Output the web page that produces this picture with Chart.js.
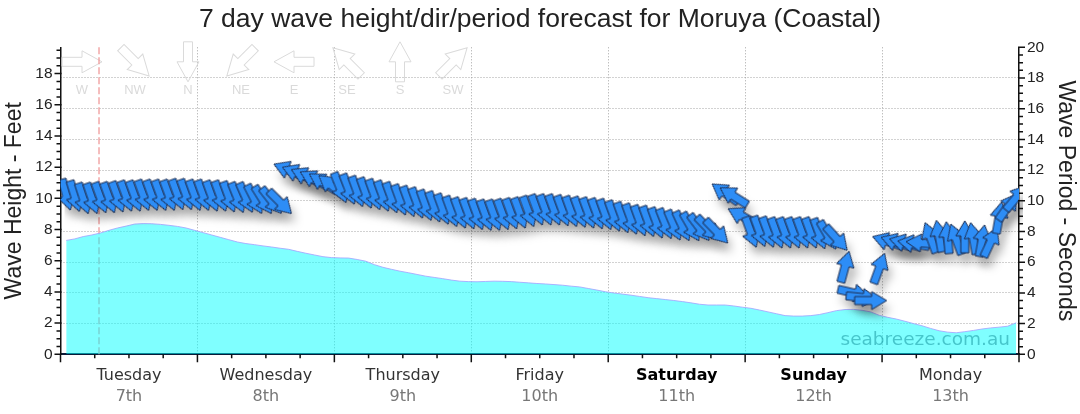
<!DOCTYPE html>
<html>
<head>
<meta charset="utf-8">
<title>Moruya wave forecast</title>
<script src="https://cdn.jsdelivr.net/npm/chart.js@4.4.1/dist/chart.umd.min.js"></script>
<style>
    html, body { margin: 0; padding: 0; background: #fff; }
    #wrap { width: 1080px; height: 414px; }
</style>
</head>
<body>
<div id="wrap"><canvas id="waveChart" width="1080" height="414"></canvas></div>
<script>
// Days along the bottom (each day is 24 hours from Tuesday 00:00)
const DAY_NAMES = ['Tuesday', 'Wednesday', 'Thursday', 'Friday', 'Saturday', 'Sunday', 'Monday'];
const DAY_DATES = ['7th', '8th', '9th', '10th', '11th', '12th', '13th'];
const WEEKEND_DAYS = ['Saturday', 'Sunday'];

// forecast points start at 01:00 Tuesday, one every 1.5 hours
const FIRST_HOUR = 1;
const HOUR_STEP = 1.5;

// wave height in feet (cyan area, left axis)
const HEIGHT_FT = [
    7.3, 7.4, 7.55, 7.65, 7.78, 7.95, 8.1, 8.22, 8.35, 8.38, 8.37, 8.33, 8.27, 8.2, 8.1, 7.95,
    7.8, 7.65, 7.5, 7.35, 7.2, 7.1, 7.03, 6.95, 6.88, 6.8,
    6.73, 6.6, 6.48, 6.37, 6.26, 6.2,
    6.18, 6.17, 6.08, 5.97, 5.75, 5.58, 5.45, 5.33, 5.23, 5.12, 5.01, 4.93, 4.85, 4.76, 4.69,
    4.66, 4.65, 4.67, 4.69, 4.68, 4.66, 4.62, 4.58, 4.54, 4.51, 4.47, 4.43, 4.37, 4.32, 4.22,
    4.12, 4.01, 3.93, 3.86, 3.79, 3.71, 3.63, 3.57, 3.51, 3.45, 3.38, 3.3, 3.21, 3.16, 3.16,
    3.16, 3.1, 3.02,
    2.95, 2.84, 2.72, 2.6, 2.48, 2.45, 2.45, 2.48, 2.55, 2.67, 2.8,
    2.87, 2.88, 2.82, 2.72, 2.5,
    2.37, 2.26, 2.12, 1.97, 1.83, 1.66, 1.51, 1.42, 1.38, 1.45, 1.53, 1.62, 1.69, 1.74, 1.8, 2.02
];

// wave period in seconds (arrows, right axis)
const PERIOD_S = [
    10.4, 10.3, 10.15, 10.15, 10.2, 10.2, 10.25, 10.3, 10.3, 10.35, 10.35, 10.35, 10.35, 10.4, 10.4, 10.35,
    10.35, 10.3, 10.3, 10.25, 10.2, 10.2, 10.1, 10.05, 10.0, 9.9,
    12.0, 11.8, 11.6, 11.4, 11.2, 11.0,
    10.85, 10.75, 10.6, 10.5, 10.4, 10.3, 10.2, 10.05, 9.95, 9.85, 9.7, 9.6, 9.45, 9.3, 9.2,
    9.15, 9.1, 9.05, 9.05, 9.1, 9.15, 9.2, 9.3, 9.4, 9.4, 9.4, 9.35, 9.3, 9.25, 9.2,
    9.15, 9.1, 9.0, 8.9, 8.8, 8.7, 8.65, 8.55, 8.5, 8.4, 8.35, 8.3, 8.25, 8.2, 8.0,
    10.5, 10.3, 9.0,
    7.95, 8.0, 7.95, 7.9, 7.9, 7.9, 7.9, 7.9, 7.85, 7.75, 7.55,
    5.7, 4.0, 3.7, 3.5, 5.6,
    7.35, 7.3, 7.25, 7.2, 7.25, 7.6, 7.7, 7.6, 7.5, 7.65, 7.55, 7.4, 7.3, 8.9, 9.6, 10.2
];

// direction the swell comes from, degrees (arrow points the way it travels)
const DIR_FROM_DEG = [
    345, 343, 342, 341, 340, 340, 340, 340, 340, 340, 340, 340, 340, 340, 340, 340,
    340, 340, 340, 340, 338, 336, 333, 328, 322, 315,
    112, 112, 115, 118, 122, 128,
    338, 339, 340, 340, 340, 340, 340, 340, 340, 340, 340, 340, 340, 340, 340,
    340, 340, 340, 340, 340, 340, 340, 340, 340, 340, 340, 340, 340, 340, 340,
    340, 340, 340, 340, 340, 340, 340, 340, 338, 337, 335, 330, 323, 316, 316,
    125, 122, 118,
    340, 340, 340, 340, 340, 340, 340, 340, 340, 330, 318,
    195, 283, 276, 270, 200,
    108, 108, 105, 100, 95, 160, 170, 175, 160, 180, 170, 190, 205, 190, 215, 220
];

// compass key drawn in the top left corner
const COMPASS_LABELS = ['W', 'NW', 'N', 'NE', 'E', 'SE', 'S', 'SW'];
const COMPASS_DEG = [270, 315, 0, 45, 90, 135, 180, 225];

const NOW_HOUR = 6.75;

const hours = HEIGHT_FT.map((_, i) => FIRST_HOUR + i * HOUR_STEP);
const heightPoints = hours.map((h, i) => ({ x: h, y: HEIGHT_FT[i] }));
const periodPoints = hours.map((h, i) => ({ x: h, y: PERIOD_S[i] }));

const dayOf = (h) => Math.floor(h / 24);
const isNoon = (h) => h % 24 === 12;
const isWeekend = (h) => WEEKEND_DAYS.includes(DAY_NAMES[dayOf(h)]);
const tickWeekend = (c) => !!(c && c.tick && isWeekend(c.tick.value));

// arrow pointing up, centred on (0,0)
function arrowPath(g, len, headLen, headW, bodyW) {
    const top = -len / 2;
    g.beginPath();
    g.moveTo(0, top);
    g.lineTo(headW / 2, top + headLen);
    g.lineTo(bodyW / 2, top + headLen);
    g.lineTo(bodyW / 2, top + len);
    g.lineTo(-bodyW / 2, top + len);
    g.lineTo(-bodyW / 2, top + headLen);
    g.lineTo(-headW / 2, top + headLen);
    g.closePath();
}

function makeArrow(fill, stroke) {
    const size = 38;
    const c = document.createElement('canvas');
    c.width = size;
    c.height = size;
    const g = c.getContext('2d');
    g.translate(size / 2, size / 2);
    arrowPath(g, 32, 15, 18, 8);
    g.fillStyle = fill;
    g.fill();
    if (stroke) {
        g.strokeStyle = stroke;
        g.lineWidth = 1;
        g.stroke();
    }
    return c;
}

const arrowImg = makeArrow('#2d8df6', '#1b2d52');
const shadowImg = makeArrow('rgba(0,0,0,0.28)', null);
const rotationFor = (c) => (DIR_FROM_DEG[c.dataIndex] + 180) % 360;

const SHADOW_INDEX = 1;

const waveDecor = {
    id: 'waveDecor',
    beforeDatasetsDraw(chart) {
        const { ctx, chartArea: a, scales: { x } } = chart;
        ctx.save();
        // compass key
        COMPASS_LABELS.forEach((lab, k) => {
            const cx = a.left + 21.5 + k * 53;
            ctx.save();
            ctx.translate(cx, a.top + 14.5);
            ctx.rotate((COMPASS_DEG[k] + 180) * Math.PI / 180);
            arrowPath(ctx, 40, 20, 22, 9);
            ctx.strokeStyle = '#dadada';
            ctx.lineWidth = 1;
            ctx.stroke();
            ctx.restore();
            ctx.fillStyle = '#dadada';
            ctx.font = '13px "Liberation Sans", Arial, sans-serif';
            ctx.textAlign = 'center';
            ctx.textBaseline = 'middle';
            ctx.fillText(lab, cx, a.top + 43);
        });
        // now marker
        const nx = x.getPixelForValue(NOW_HOUR);
        ctx.strokeStyle = '#f09a9a';
        ctx.lineWidth = 1.3;
        ctx.setLineDash([7, 3]);
        ctx.beginPath();
        ctx.moveTo(nx, a.top);
        ctx.lineTo(nx, a.bottom);
        ctx.stroke();
        ctx.restore();
    },
    beforeDatasetDraw(chart, args) {
        if (args.index === SHADOW_INDEX) {
            chart.ctx.save();
            chart.ctx.filter = 'blur(5px)';
            chart.ctx.translate(4, 9);
        }
    },
    afterDatasetDraw(chart, args) {
        if (args.index === SHADOW_INDEX) chart.ctx.restore();
    },
    afterDatasetsDraw(chart) {
        const { ctx, chartArea: a } = chart;
        ctx.save();
        ctx.font = '18.5px "DejaVu Sans", Verdana, sans-serif';
        ctx.fillStyle = 'rgba(0,128,140,0.45)';
        ctx.textAlign = 'right';
        ctx.textBaseline = 'alphabetic';
        ctx.fillText('seabreeze.com.au', a.right - 9, a.bottom - 9.5);
        ctx.restore();
    },
    afterDraw(chart) {
        const { ctx, scales: { x, y, y1 } } = chart;
        ctx.save();
        ctx.strokeStyle = '#111';
        ctx.lineWidth = 1.5;
        ctx.beginPath();
        for (let h = 0; h <= 168; h += 6) {
            const px = x.getPixelForValue(h);
            ctx.moveTo(px, x.top);
            ctx.lineTo(px, x.top + (h % 24 === 0 ? 8 : 4));
        }
        for (let v = 0; v <= 19.5; v += 0.5) {
            const py = y.getPixelForValue(v);
            const major = v % 2 === 0;
            ctx.moveTo(y.right - (major ? 6 : 4), py);
            ctx.lineTo(y.right + (major ? 1 : 0), py);
        }
        for (let v = 0; v <= 20; v += 0.5) {
            const py = y1.getPixelForValue(v);
            const major = v % 2 === 0;
            ctx.moveTo(y1.left - (major ? 1 : 0), py);
            ctx.lineTo(y1.left + (major ? 6 : 4), py);
        }
        ctx.stroke();
        ctx.restore();
    }
};

const gridDots = '#a4a4a4';
const clear = 'rgba(0,0,0,0)';

new Chart(document.getElementById('waveChart'), {
    type: 'line',
    data: {
        datasets: [
            {
                label: 'Wave height',
                data: heightPoints,
                yAxisID: 'y',
                fill: 'origin',
                backgroundColor: 'rgba(0,255,255,0.5)',
                borderColor: 'rgba(165,165,255,0.85)',
                borderWidth: 1,
                pointRadius: 0,
                tension: 0,
                order: 3
            },
            {
                label: 'shadow',
                data: periodPoints,
                yAxisID: 'y1',
                showLine: false,
                pointStyle: shadowImg,
                pointRadius: 6,
                pointRotation: rotationFor,
                clip: 0,
                order: 2
            },
            {
                label: 'Wave period',
                data: periodPoints,
                yAxisID: 'y1',
                showLine: false,
                pointStyle: arrowImg,
                pointRadius: 6,
                pointRotation: rotationFor,
                clip: 0,
                order: 1
            }
        ]
    },
    options: {
        responsive: false,
        animation: false,
        events: [],
        font: { family: '"Liberation Sans", Arial, sans-serif' },
        layout: { padding: 0 },
        plugins: {
            legend: { display: false },
            tooltip: { enabled: false },
            title: {
                display: true,
                text: '7 day wave height/dir/period forecast for Moruya (Coastal)',
                color: '#222',
                font: { family: '"Liberation Sans", Arial, sans-serif', size: 26.5, weight: 'normal' },
                padding: { top: 4.1, bottom: 11.4 }
            }
        },
        scales: {
            x: {
                type: 'linear',
                position: 'bottom',
                min: 0,
                max: 168,
                afterFit: (s) => { s.height = 30; },
                border: { color: '#0b1a38', width: 2, dash: [1, 2] },
                grid: {
                    drawTicks: false,
                    color: (c) => (c.tick && c.tick.value % 24 === 0 && c.tick.value > 0 && c.tick.value < 168) ? gridDots : clear
                },
                ticks: {
                    stepSize: 6,
                    autoSkip: false,
                    maxRotation: 0,
                    padding: 12.1,
                    color: (c) => tickWeekend(c) ? '#000' : '#333',
                    font: (c) => ({
                        family: '"DejaVu Sans", Verdana, sans-serif',
                        size: 16,
                        weight: tickWeekend(c) ? 'bold' : 'normal'
                    }),
                    callback: (v) => isNoon(v) ? DAY_NAMES[dayOf(v)] : ''
                }
            },
            x2: {
                type: 'linear',
                position: 'bottom',
                min: 0,
                max: 168,
                afterFit: (s) => { s.height = 29.7; },
                border: { display: false },
                grid: { display: false, drawTicks: false },
                ticks: {
                    stepSize: 6,
                    autoSkip: false,
                    maxRotation: 0,
                    padding: 2.6,
                    color: '#777',
                    font: { family: '"DejaVu Sans", Verdana, sans-serif', size: 16 },
                    callback: (v) => isNoon(v) ? DAY_DATES[dayOf(v)] : ''
                }
            },
            y: {
                type: 'linear',
                position: 'left',
                min: 0,
                max: 19.685,
                afterFit: (s) => { s.width = 60.5; },
                border: { color: '#111', width: 1.5 },
                grid: { drawOnChartArea: false, drawTicks: false },
                title: {
                    display: true,
                    text: 'Wave Height - Feet',
                    color: '#222',
                    font: { size: 23 },
                    padding: { top: 1.2, bottom: 0 }
                },
                ticks: {
                    stepSize: 2,
                    includeBounds: false,
                    autoSkip: false,
                    padding: 8,
                    color: '#222',
                    font: { size: 15.5 }
                }
            },
            y1: {
                type: 'linear',
                position: 'right',
                min: 0,
                max: 20,
                afterFit: (s) => { s.width = 61; },
                border: { color: '#111', width: 1.5, dash: [1, 2] },
                grid: {
                    drawTicks: false,
                    color: (c) => (c.tick && c.tick.value > 0 && c.tick.value < 20) ? gridDots : clear
                },
                title: {
                    display: true,
                    text: 'Wave Period - Seconds',
                    color: '#222',
                    font: { size: 23 },
                    padding: { top: 1.2, bottom: 0 }
                },
                ticks: {
                    stepSize: 2,
                    autoSkip: false,
                    padding: 8,
                    color: '#222',
                    font: { size: 15.5 }
                }
            }
        }
    },
    plugins: [waveDecor]
});
</script>
</body>
</html>
